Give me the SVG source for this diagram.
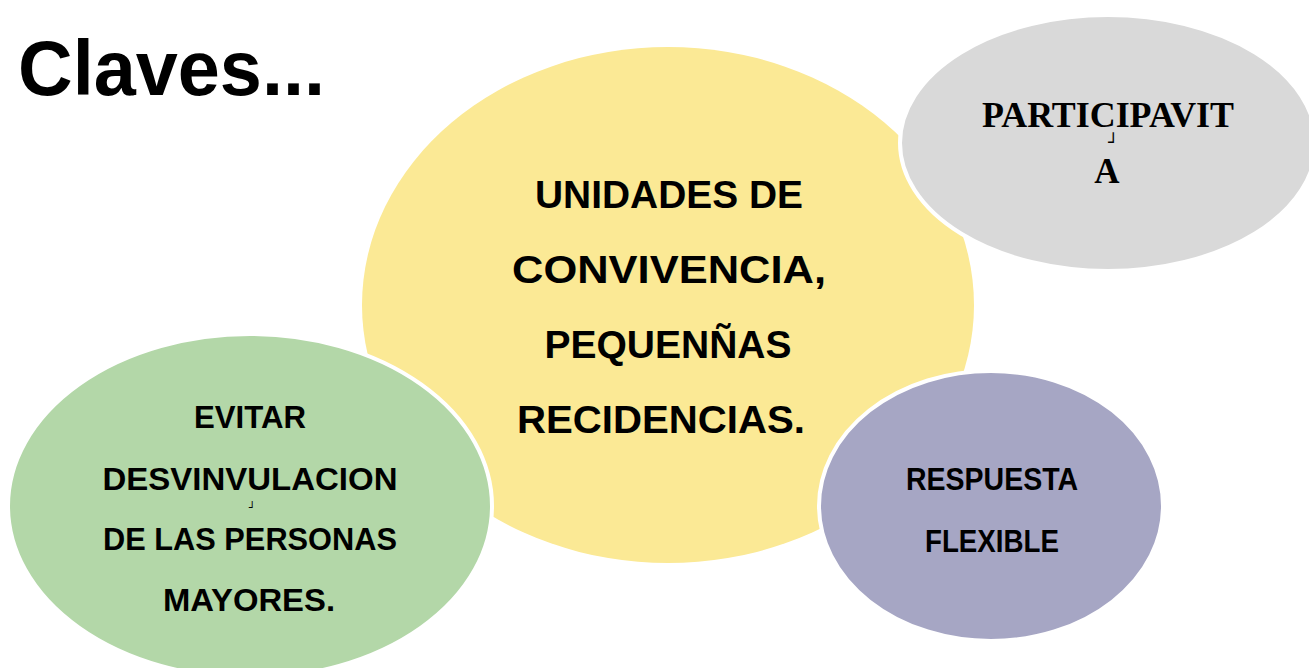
<svg xmlns="http://www.w3.org/2000/svg" width="1309" height="668" viewBox="0 0 1309 668">
<style>
.t{font-family:"Liberation Sans",Arial,sans-serif;font-weight:bold;fill:#000;text-anchor:middle}
.tm{font-family:"Liberation Serif","Times New Roman",serif;font-weight:bold;fill:#000;text-anchor:middle}
.mk{font-family:"DejaVu Sans Mono",monospace;fill:#000;text-anchor:middle}
.e{stroke:#fff;stroke-width:4}
</style>
<rect width="1309" height="668" fill="#fff"/>
<g id="title"><text class="t" x="18" y="95" style="text-anchor:start;font-size:78px" textLength="307" lengthAdjust="spacingAndGlyphs">Claves...</text></g>
<g id="connectors"></g>
<g id="node-unidades">
<ellipse cx="668" cy="305" rx="306" ry="258" fill="#FBE995"/>
<text class="t" style="font-size:39px" x="669" y="208" textLength="268" lengthAdjust="spacingAndGlyphs">UNIDADES DE</text>
<text class="t" style="font-size:39px" x="669" y="283" textLength="314" lengthAdjust="spacingAndGlyphs">CONVIVENCIA,</text>
<text class="t" style="font-size:39px" x="668" y="358" textLength="247" lengthAdjust="spacingAndGlyphs">PEQUENÑAS</text>
<text class="t" style="font-size:39px" x="661" y="433" textLength="288" lengthAdjust="spacingAndGlyphs">RECIDENCIAS.</text>
</g>
<g id="node-participativa">
<ellipse class="e" cx="1108" cy="143" rx="208" ry="128" fill="#D9D9D9"/>
<text class="tm" style="font-size:35px" x="1108" y="127" textLength="252" lengthAdjust="spacingAndGlyphs">PARTICIPAVIT</text>
<text class="mk" style="font-size:17px" x="1113" y="148">┘</text>
<text class="tm" style="font-size:35px" x="1107" y="183">A</text>
</g>
<g id="node-evitar">
<ellipse class="e" cx="250" cy="506" rx="242" ry="172" fill="#B3D7A8"/>
<text class="t" style="font-size:32px" x="250" y="428" textLength="112" lengthAdjust="spacingAndGlyphs">EVITAR</text>
<text class="t" style="font-size:32px" x="250" y="490" textLength="295" lengthAdjust="spacingAndGlyphs">DESVINVULACION</text>
<text class="mk" style="font-size:11px" x="252" y="511">┘</text>
<text class="t" style="font-size:32px" x="250" y="550" textLength="294" lengthAdjust="spacingAndGlyphs">DE LAS PERSONAS</text>
<text class="t" style="font-size:32px" x="249" y="611" textLength="172" lengthAdjust="spacingAndGlyphs">MAYORES.</text>
</g>
<g id="node-respuesta">
<ellipse class="e" cx="991" cy="506" rx="172" ry="135" fill="#A6A6C4"/>
<text class="t" style="font-size:32px" x="992" y="490" textLength="172" lengthAdjust="spacingAndGlyphs">RESPUESTA</text>
<text class="t" style="font-size:32px" x="992" y="552" textLength="134" lengthAdjust="spacingAndGlyphs">FLEXIBLE</text>
</g>
</svg>
